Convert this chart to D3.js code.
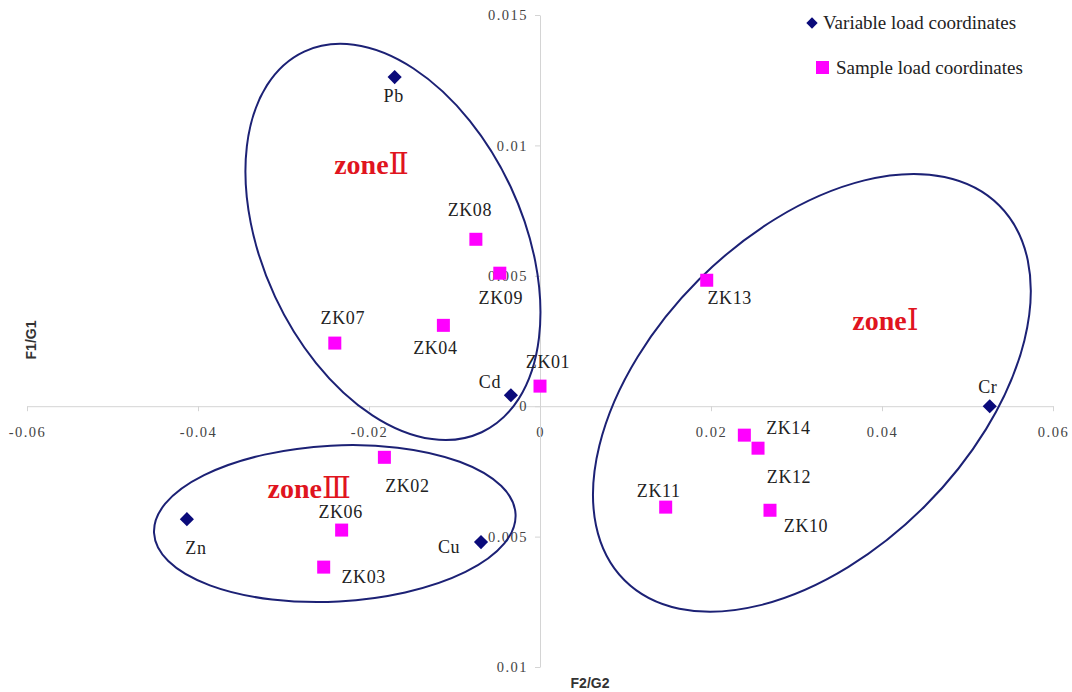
<!DOCTYPE html>
<html>
<head>
<meta charset="utf-8">
<script src="https://cdn.jsdelivr.net/npm/d3@7"></script>
<style>
  body { margin:0; background:#fff; }
</style>
</head>
<body>
<div id="chart"></div>
<script>
// variable loadings (F2/G2 on x, F1/G1 on y)
var varNames = ["Pb", "Cd", "Cr", "Zn", "Cu"];
var varF2 = [-0.0170, -0.0034, 0.0526, -0.0413, -0.0069];
var varF1 = [0.01262, 0.00042, 0.0000, -0.00433, -0.00521];

// sample loadings
var sampleNames = ["ZK08", "ZK09", "ZK04", "ZK07", "ZK01", "ZK13", "ZK14", "ZK12", "ZK11", "ZK10", "ZK02", "ZK06", "ZK03"];
var sampleF2 = [-0.0075, -0.0047, -0.0113, -0.0240, 0.0000, 0.0195, 0.0239, 0.0255, 0.0147, 0.0269, -0.0182, -0.0232, -0.0253];
var sampleF1 = [0.0064, 0.0051, 0.0031, 0.00242, 0.00077, 0.00483, -0.00111, -0.00161, -0.00387, -0.00399, -0.00196, -0.00475, -0.00617];

// zones
var zoneNums = ["Ⅰ", "Ⅱ", "Ⅲ"];
var zoneF2 = [0.0318, -0.0172, -0.0240];
var zoneF1 = [0.00051, 0.0063, -0.0045];
var zoneLabelF2 = [0.0404, -0.0197, -0.0270];
var zoneLabelF1 = [0.0033, 0.0093, -0.00315];

var xTicks = [-0.06, -0.04, -0.02, 0, 0.02, 0.04, 0.06];
var yTicks = [-0.01, -0.005, 0, 0.005, 0.01, 0.015];

// layout only
var zoneShape = [{rx:265, ry:160, rot:-45}, {rx:130, ry:210, rot:-25}, {rx:181, ry:78, rot:-3}];
var labelOff = {
  Pb:[-1,19], Cd:[-21,-13], Cr:[-2,-19], Zn:[9,29], Cu:[-32,5],
  ZK08:[-6,-29], ZK09:[1,25], ZK04:[-8,23], ZK07:[8,-25], ZK01:[8,-24], ZK13:[23,18],
  ZK14:[44,-7], ZK12:[31,29], ZK11:[-7,-16], ZK10:[36,16], ZK02:[23,29], ZK06:[-1,-18], ZK03:[40,10]
};

var width = 1072, height = 692;
var navy = "#0a0a7a", pink = "#ff00ff", ringColor = "#1c2175";
var serif = "'Liberation Serif', 'DejaVu Serif', serif";

var svg = d3.select("#chart").append("svg")
    .attr("width", width)
    .attr("height", height);

var x = d3.scaleLinear().domain([-0.06, 0.06]).range([27, 1053]);
var y = d3.scaleLinear().domain([-0.01, 0.015]).range([667, 15]);

var xAxis = svg.append("g")
    .attr("transform", "translate(0," + y(0) + ")")
    .call(d3.axisBottom(x).tickValues(xTicks).tickSize(5).tickSizeOuter(0).tickPadding(16)
      .tickFormat(function(d){ return String(+d.toFixed(2)); }));

var yAxis = svg.append("g")
    .attr("transform", "translate(" + x(0) + ",0)")
    .call(d3.axisLeft(y).tickValues(yTicks).tickSize(5).tickSizeOuter(0).tickPadding(7)
      .tickFormat(function(d){ return String(+Math.abs(d).toFixed(3)); }));

[xAxis, yAxis].forEach(function(a){
  a.select(".domain").attr("stroke", "#d4d4d4");
  a.selectAll(".tick line").attr("stroke", "#d4d4d4");
  a.selectAll(".tick text")
    .style("font-family", serif)
    .style("font-size", "14.5px")
    .style("letter-spacing", "1.5px")
    .attr("fill", "#444");
});

// axis titles
svg.append("text")
    .attr("transform", "translate(36," + 340 + ") rotate(-90)")
    .attr("text-anchor", "middle")
    .style("font-family", "'Liberation Sans', Arial, sans-serif")
    .style("font-weight", "bold")
    .style("font-size", "14px")
    .attr("fill", "#333")
    .text("F1/G1");

svg.append("text")
    .attr("x", 590).attr("y", 688)
    .attr("text-anchor", "middle")
    .style("font-family", "'Liberation Sans', Arial, sans-serif")
    .style("font-weight", "bold")
    .style("font-size", "14px")
    .attr("fill", "#333")
    .text("F2/G2");

// zone ellipses
svg.selectAll(".zone")
    .data(zoneShape)
    .enter().append("ellipse")
    .attr("class", "zone")
    .attr("transform", function(d, i){ return "translate(" + x(zoneF2[i]) + "," + y(zoneF1[i]) + ") rotate(" + d.rot + ")"; })
    .attr("rx", function(d){ return d.rx; })
    .attr("ry", function(d){ return d.ry; })
    .attr("fill", "none")
    .attr("stroke", ringColor)
    .attr("stroke-width", 2);

var zl = svg.selectAll(".zoneLabel")
    .data(zoneNums)
    .enter().append("text")
    .attr("class", "zoneLabel")
    .attr("x", function(d, i){ return x(zoneLabelF2[i]); })
    .attr("y", function(d, i){ return y(zoneLabelF1[i]) + 10; })
    .attr("text-anchor", "middle")
    .attr("fill", "#e0141e")
    .style("font-family", serif);
zl.append("tspan").style("font-weight", "bold").style("font-size", "28px").text("zone");
zl.append("tspan").style("font-size", "30px").text(function(d){ return d; });

// points
var sym = d3.symbol();
var vars = varNames.map(function(n, i){ return {name:n, f2:varF2[i], f1:varF1[i]}; });
var samples = sampleNames.map(function(n, i){ return {name:n, f2:sampleF2[i], f1:sampleF1[i]}; });

svg.selectAll(".sq")
    .data(samples)
    .enter().append("rect")
    .attr("class", "sq")
    .attr("x", function(d){ return x(d.f2) - 6.5; })
    .attr("y", function(d){ return y(d.f1) - 6.5; })
    .attr("width", 13).attr("height", 13)
    .attr("fill", pink);

svg.selectAll(".dia")
    .data(vars)
    .enter().append("path")
    .attr("class", "dia")
    .attr("transform", function(d){ return "translate(" + x(d.f2) + "," + y(d.f1) + ") rotate(45)"; })
    .attr("d", sym.type(d3.symbolSquare).size(100))
    .attr("fill", navy);

svg.selectAll(".ptLabel")
    .data(vars.concat(samples))
    .enter().append("text")
    .attr("class", "ptLabel")
    .attr("x", function(d){ return x(d.f2) + labelOff[d.name][0]; })
    .attr("y", function(d){ return y(d.f1) + labelOff[d.name][1] + 6; })
    .attr("text-anchor", "middle")
    .style("font-family", serif)
    .style("font-size", "18px")
    .style("letter-spacing", "0.6px")
    .attr("fill", "#222")
    .text(function(d){ return d.name; });

// legend
var legend = svg.append("g").attr("class", "legend");
legend.append("path")
    .attr("transform", "translate(812,23) rotate(45)")
    .attr("d", sym.type(d3.symbolSquare).size(64))
    .attr("fill", navy);
legend.append("text")
    .attr("x", 823).attr("y", 29)
    .style("font-family", serif)
    .style("font-size", "19px")
    .attr("fill", "#222")
    .text("Variable load coordinates");
legend.append("rect")
    .attr("x", 816).attr("y", 61).attr("width", 13).attr("height", 13)
    .attr("fill", pink);
legend.append("text")
    .attr("x", 836).attr("y", 74)
    .style("font-family", serif)
    .style("font-size", "19px")
    .attr("fill", "#222")
    .text("Sample load coordinates");
</script>
</body>
</html>
